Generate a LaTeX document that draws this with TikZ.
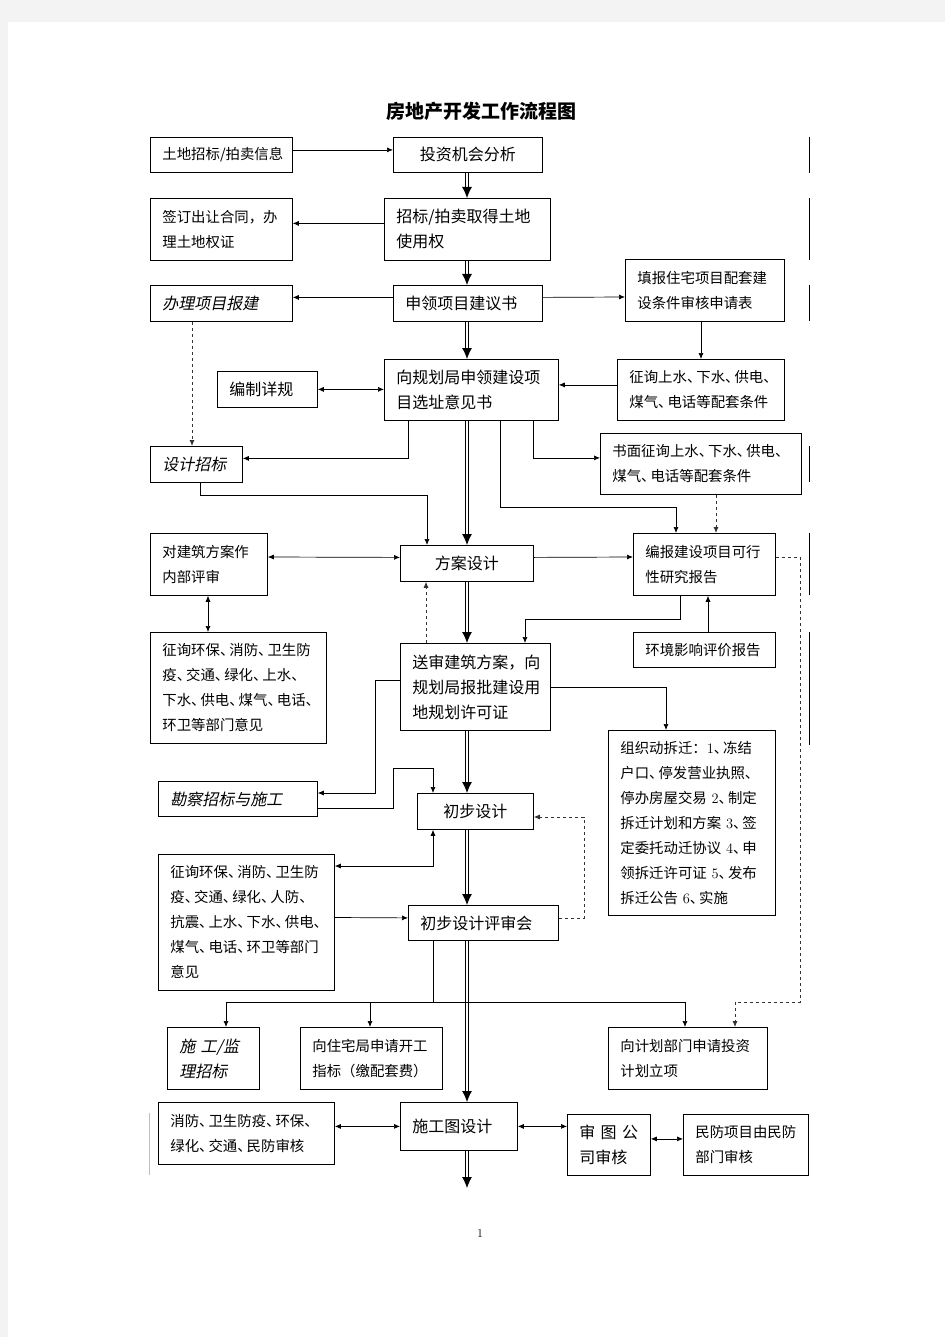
\documentclass[tikz,border=0pt]{standalone}
\usepackage{fontspec}
\usetikzlibrary{arrows.meta,shadows}
\newfontfamily\cjk{Noto Sans CJK SC}
\newfontfamily\cjkit[FakeSlant=0.2]{Noto Sans CJK SC}
\definecolor{pagegray}{HTML}{F3F3F3}
\newcommand{\dunhao}{、\kern-0.35em}

\tikzset{
  box/.style={draw, line width=0.8pt, fill=white, anchor=north west,
    inner xsep=12pt, inner ysep=0pt, align=left,
    font=\cjk\fontsize{14.4}{25}\selectfont,
    drop shadow={shadow xshift=1pt, shadow yshift=-1pt, fill=black!55, opacity=1}},
  big/.style={box, font=\cjk\fontsize{16}{25}\selectfont},
  itbox/.style={box, font=\cjkit\fontsize{16}{25}\selectfont},
  link/.style={line width=0.7pt, -{Latex[length=6pt,width=5pt]}},
  both/.style={line width=0.7pt, {Latex[length=6pt,width=5pt]}-{Latex[length=6pt,width=5pt]}},
  dlink/.style={link, dashed, line width=0.8pt, black!80},
  main/.style={double, double distance=2pt, line width=0.9pt, -{Latex[length=11pt,width=10pt]}},
}

\begin{document}
\begin{tikzpicture}[x=1pt,y=-1pt]

    % page
    \fill[pagegray] (0,0) rectangle (945,1337);
    \fill[white] (8,22) rectangle (945,1337);
    \useasboundingbox (0,0) rectangle (945,1337);

    \node[font=\cjk\bfseries\fontsize{19}{22}\selectfont] (title) at (481,111) {房地产开发工作流程图};

    % boxes
    \node[box, text width=118pt, minimum height=35pt] (A1) at (150,137) {土地招标/拍卖信息};
    \node[big, text width=125pt, minimum height=35pt, align=center] (A2) at (393,137) {投资机会分析};
    \node[box, text width=118pt, minimum height=62pt] (B1) at (150,198) {签订出让合同，办\\理土地权证};
    \node[big, text width=142pt, minimum height=62pt] (B2) at (384,198) {招标/拍卖取得土地\\使用权};
    \node[itbox, text width=118pt, minimum height=36pt] (C1) at (150,285) {办理项目报建};
    \node[big, text width=125pt, minimum height=36pt] (C2) at (393,285) {申领项目建议书};
    \node[box, text width=135pt, minimum height=62pt] (C3) at (625,259) {填报住宅项目配套建\\设条件审核申请表};
    \node[big, text width=76pt, minimum height=36pt] (D1) at (217,371) {编制详规};
    \node[big, text width=150pt, minimum height=61pt] (D2) at (384,359) {向规划局申领建设项\\目选址意见书};
    \node[box, text width=143pt, minimum height=61pt] (D3) at (617,359) {征询上水\dunhao{}下水\dunhao{}供电\dunhao{}\\煤气\dunhao{}电话等配套条件};
    \node[itbox, text width=68pt, minimum height=36pt] (E1) at (150,446) {设计招标};
    \node[box, text width=177pt, minimum height=61pt] (E3) at (600,433) {书面征询上水\dunhao{}下水\dunhao{}供电\dunhao{}\\煤气\dunhao{}电话等配套条件};
    \node[box, text width=93pt, minimum height=62pt] (F1) at (150,533) {对建筑方案作\\内部评审};
    \node[big, text width=109pt, minimum height=36pt, align=center] (F2) at (400,545) {方案设计};
    \node[box, text width=118pt, minimum height=62pt] (F3) at (633,533) {编报建设项目可行\\性研究报告};
    \node[box, text width=152pt, minimum height=111pt] (G1) at (150,632) {征询环保\dunhao{}消防\dunhao{}卫生防\\疫\dunhao{}交通\dunhao{}绿化\dunhao{}上水\dunhao{}\\下水\dunhao{}供电\dunhao{}煤气\dunhao{}电话\dunhao{}\\环卫等部门意见};
    \node[big, text width=126pt, minimum height=87pt] (G2) at (400,643) {送审建筑方案，向\\规划局报批建设用\\地规划许可证};
    \node[box, text width=118pt, minimum height=35pt] (G3) at (633,632) {环境影响评价报告};
    \node[itbox, text width=135pt, minimum height=35pt] (H1) at (158,781) {勘察招标与施工};
    \node[big, text width=92pt, minimum height=36pt, align=center] (H2) at (417,793) {初步设计};
    \node[box, text width=143pt, minimum height=185pt] (H3) at (608,730) {组织动拆迁：{\rmfamily 1}\dunhao{}冻结\\户口\dunhao{}停发营业执照\dunhao{}\\停办房屋交易 {\rmfamily 2}\dunhao{}制定\\拆迁计划和方案 {\rmfamily 3}\dunhao{}签\\定委托动迁协议 {\rmfamily 4}\dunhao{}申\\领拆迁许可证 {\rmfamily 5}\dunhao{}发布\\拆迁公告 {\rmfamily 6}\dunhao{}实施};
    \node[box, text width=152pt, minimum height=136pt] (I1) at (158,854) {征询环保\dunhao{}消防\dunhao{}卫生防\\疫\dunhao{}交通\dunhao{}绿化\dunhao{}人防\dunhao{}\\抗震\dunhao{}上水\dunhao{}下水\dunhao{}供电\dunhao{}\\煤气\dunhao{}电话\dunhao{}环卫等部门\\意见};
    \node[big, text width=126pt, minimum height=35pt] (I2) at (408,905) {初步设计评审会};
    \node[itbox, text width=68pt, minimum height=62pt] (J1) at (167,1027) {施 工/监\\理招标};
    \node[box, text width=118pt, minimum height=62pt] (J2) at (300,1027) {向住宅局申请开工\\指标（缴配套费）};
    \node[box, text width=135pt, minimum height=62pt] (J3) at (608,1027) {向计划部门申请投资\\计划立项};
    \node[box, text width=152pt, minimum height=62pt] (K1) at (158,1102) {消防\dunhao{}卫生防疫\dunhao{}环保\dunhao{}\\绿化\dunhao{}交通\dunhao{}民防审核};
    \node[big, text width=93pt, minimum height=48pt] (K2) at (400,1102) {施工图设计};
    \node[big, text width=59pt, minimum height=61pt] (K3) at (567,1114) {审 图 公\\司审核};
    \node[box, text width=101pt, minimum height=61pt] (K4) at (683,1114) {民防项目由民防\\部门审核};

    \node[font=\fontsize{12}{14}\selectfont] (pagenum) at (480,1233) {1};

    \coordinate (spine) at (467,0);
    \coordinate (split) at (433,1002);
    \coordinate (exit) at (467,1188);

    % main flow
    \draw[main] (A2.south -| spine) -- (B2.north -| spine);
    \draw[main] (B2.south -| spine) -- (C2.north -| spine);
    \draw[main] (C2.south -| spine) -- (D2.north -| spine);
    \draw[main] (D2.south -| spine) -- (F2.north -| spine);
    \draw[main] (F2.south -| spine) -- (G2.north -| spine);
    \draw[main] (G2.south -| spine) -- (H2.north -| spine);
    \draw[main] (H2.south -| spine) -- (I2.north -| spine);
    \draw[main] (I2.south -| spine) -- (K2.north -| spine);
    \draw[main] (K2.south -| spine) -- (exit);

    % side links
    \draw[link] ([yshift=5pt]A1.east) -- ([yshift=5pt]A2.west);
    \draw[link] ([yshift=6pt]B2.west) -- ([yshift=6pt]B1.east);
    \draw[link] ([yshift=6pt]C2.west) -- ([yshift=6pt]C1.east);
    \draw[link] ([yshift=6pt]C2.east) -- (C3.west |- 0,297);
    \draw[link] (C3.south -| 701,0) -- (D3.north -| 701,0);
    \draw[dlink] (C1.south -| 192,0) -- (E1.north -| 192,0);
    \draw[both] (D1.east) -- (D2.west |- D1.east);
    \draw[link] ([yshift=5pt]D3.west) -- ([yshift=5pt]D2.east);
    \draw[link] (D2.south -| 408,0) |- ([yshift=6pt]E1.east);
    \draw[link] (D2.south -| 533,0) |- ([yshift=6pt]E3.west);
    \draw[link] (D2.south -| 500,0) |- (676,507) -- (F3.north -| 676,0);
    \draw[dlink] (E3.south -| 716,0) -- (F3.north -| 716,0);
    \draw[link] (E1.south -| 200,0) |- (427,495) -- (F2.north -| 427,0);
    \draw[both] (F1.east |- 0,557) -- ([yshift=6pt]F2.west);
    \draw[link] ([yshift=6pt]F2.east) -- (F3.west |- 0,557);
    \draw[dlink] (F3.east |- 0,557) -- (800,557) -- (800,1002) -- (735,1002) -- (J3.north -| 735,0);
    \draw[both] (F1.south -| 208,0) -- (G1.north -| 208,0);
    \draw[link] (G3.north -| 708,0) -- (F3.south -| 708,0);
    \draw[link] (F3.south -| 680,0) |- (525,619) -- (G2.north -| 525,0);
    \draw[dlink] (G2.north -| 426,0) -- (F2.south -| 426,0);
    \draw[link] (G2.east) -| (H3.north -| 666,0);
    \draw[link] (G2.west |- 0,680) -| (375,793) -- (H1.east |- 0,793);
    \draw[link] (H1.east |- 0,808) -| (393,768) -| (H2.north -| 433,0);
    \draw[dlink] ([yshift=5pt]I2.east) -| (584,817) -- (H2.east |- 0,817);
    \draw[both] (H2.south -| 433,0) |- (I1.east |- 0,866);
    \draw[link] (I1.east |- 0,917.5) -- ([yshift=5pt]I2.west);
    \draw (I2.south -| split) -- (split);
    \draw[link] (split) -| (J1.north -| 226,0);
    \draw[link] (split) -| (J2.north -| 370,0);
    \draw[link] (split) -| (J3.north -| 685,0);
    \draw[both] (K1.east |- K2.west) -- (K2.west);
    \draw[both] (K2.east) -- (K3.west |- K2.east);
    \draw[both] ([yshift=6pt]K3.east) -- ([yshift=6pt]K4.west);

    % stray rules at the page edge
    \foreach \ya/\yb in {137/173, 198/260, 285/321, 446/482, 533/595, 632/745}
      \draw[line width=0.8pt] (809,\ya) -- (809,\yb);
    \draw[black!25] (149,1113) -- (149,1175);

\end{tikzpicture}
\end{document}
